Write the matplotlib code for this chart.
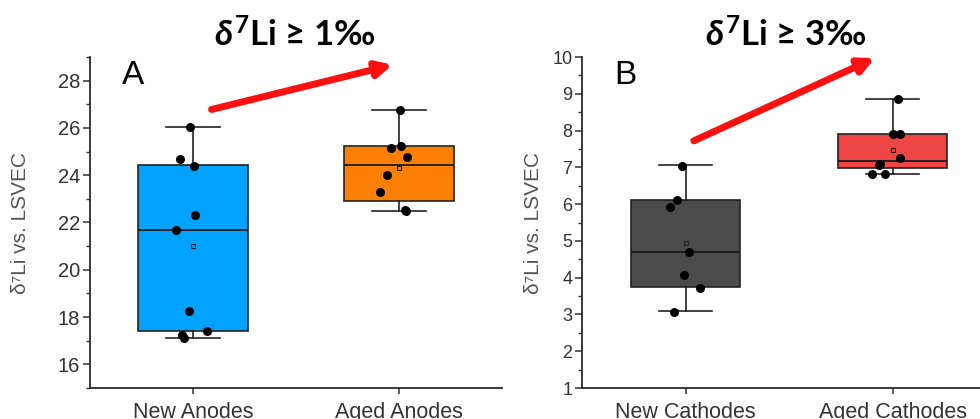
import matplotlib
matplotlib.use("Agg")
import matplotlib.pyplot as plt
from matplotlib.ticker import MultipleLocator

plt.rcParams['font.family'] = ['Liberation Sans', 'DejaVu Sans']
plt.rcParams['mathtext.fontset'] = 'custom'
plt.rcParams['mathtext.rm'] = 'Lato:bold'
plt.rcParams['mathtext.it'] = 'Lato:italic:bold'
plt.rcParams['mathtext.bf'] = 'Lato:bold'

# ---- panel A: anodes ----
anode_labels = ["New Anodes", "Aged Anodes"]
new_anodes = [26.06, 24.70, 24.40, 22.30, 21.68, 18.25, 17.43, 17.25, 17.10]
new_anodes_dx = [-0.013, -0.062, 0.003, 0.011, -0.083, -0.021, 0.068, -0.054, -0.046]
aged_anodes = [26.77, 25.15, 25.25, 24.77, 24.01, 23.31, 22.50, 22.54]
aged_anodes_dx = [0.003, -0.037, 0.011, 0.041, -0.057, -0.094, 0.033, 0.030]
# box stats (q1, median, q3, whisker low, whisker high, mean)
anode_q1 = [17.43, 22.92]
anode_med = [21.68, 24.42]
anode_q3 = [24.42, 25.24]
anode_lo = [17.10, 22.50]
anode_hi = [26.06, 26.77]
anode_mean = [21.02, 24.30]
anode_colors = ["#00A2FF", "#FF8000"]

# ---- panel B: cathodes ----
cathode_labels = ["New Cathodes", "Aged Cathodes"]
new_cathodes = [7.03, 6.11, 5.91, 4.71, 4.07, 3.71, 3.06]
new_cathodes_dx = [-0.016, -0.040, -0.077, 0.016, -0.008, 0.068, -0.055]
aged_cathodes = [8.85, 7.91, 7.91, 7.25, 7.08, 7.06, 6.83, 6.83]
aged_cathodes_dx = [0.027, 0.0, 0.035, 0.035, -0.061, -0.066, -0.097, -0.037]
cathode_q1 = [3.74, 6.97]
cathode_med = [4.69, 7.17]
cathode_q3 = [6.11, 7.90]
cathode_lo = [3.09, 6.83]
cathode_hi = [7.05, 8.86]
cathode_mean = [4.93, 7.48]
cathode_colors = ["#4B4B4B", "#F04545"]

fig = plt.figure(figsize=(9.8, 4.19), dpi=100)
axA = fig.add_axes([90/980, 31/419, 412/980, 331/419])
axB = fig.add_axes([582/980, 31/419, 414/980, 331/419])


def draw_panel(ax, labels, groups, offsets, q1, med, q3, lo, hi, mean, colors, ytick_size):
    stats = []
    for i in range(len(labels)):
        stats.append(dict(q1=q1[i], med=med[i], q3=q3[i], whislo=lo[i],
                          whishi=hi[i], mean=mean[i], fliers=[], label=labels[i]))
    bp = ax.bxp(stats, positions=[1, 2], widths=0.53, capwidths=0.26,
                patch_artist=True, showmeans=True, showfliers=False,
                boxprops=dict(linewidth=1.2, edgecolor="#222222"),
                medianprops=dict(color="#1a1a1a", linewidth=1.3),
                whiskerprops=dict(color="#222222", linewidth=1.2),
                capprops=dict(color="#222222", linewidth=1.2),
                meanprops=dict(marker="s", markersize=3.5, markerfacecolor="none",
                               markeredgecolor="#222222", markeredgewidth=0.8))
    for patch, c in zip(bp["boxes"], colors):
        patch.set_facecolor(c)
    for i, (vals, dx) in enumerate(zip(groups, offsets)):
        xs = [i + 1 + d for d in dx]
        ax.scatter(xs, vals, s=30, color="black", zorder=5)

    ax.set_xlim(0.5, 2.5)
    ax.set_xticks([1, 2])
    ax.set_xticklabels(labels, fontsize=15.5, color="#333333")
    for side in ["top", "right"]:
        ax.spines[side].set_visible(False)
    for side in ["left", "bottom"]:
        ax.spines[side].set_linewidth(1.3)
        ax.spines[side].set_color("#2a2a2a")
    ax.tick_params(axis="y", which="major", length=5, width=1.1, labelsize=ytick_size,
                   colors="#333333", pad=2)
    ax.tick_params(axis="y", which="minor", length=3, width=1.0, colors="#333333")
    ax.tick_params(axis="x", length=4, width=1.1, pad=6, colors="#333333")
    ax.set_ylabel("δ⁷Li vs. LSVEC", fontsize=15, color="#555555")


draw_panel(axA, anode_labels, [new_anodes, aged_anodes], [new_anodes_dx, aged_anodes_dx],
           anode_q1, anode_med, anode_q3, anode_lo, anode_hi, anode_mean, anode_colors, 14.5)
axA.set_ylim(15, 29)
axA.yaxis.set_major_locator(MultipleLocator(2))
axA.yaxis.set_minor_locator(MultipleLocator(1))
axA.set_yticks([16, 18, 20, 22, 24, 26, 28])
axA.yaxis.set_label_coords(-0.146, 0.5)

draw_panel(axB, cathode_labels, [new_cathodes, aged_cathodes], [new_cathodes_dx, aged_cathodes_dx],
           cathode_q1, cathode_med, cathode_q3, cathode_lo, cathode_hi, cathode_mean, cathode_colors, 13)
axB.set_ylim(1, 10)
axB.yaxis.set_major_locator(MultipleLocator(1))
axB.yaxis.set_minor_locator(MultipleLocator(0.5))
axB.yaxis.set_label_coords(-0.094, 0.5)

# panel letters
axA.text(0.105, 0.945, "A", transform=axA.transAxes, fontsize=24, ha="center", va="center")
axB.text(0.105, 0.945, "B", transform=axB.transAxes, fontsize=24, ha="center", va="center")

# red trend arrows
axA.annotate("", xy=(1.97, 28.67), xytext=(1.09, 26.78), annotation_clip=False,
             arrowprops=dict(arrowstyle="-|>,head_length=0.9,head_width=0.45",
                             color="#FF1010", lw=5, shrinkA=0, shrinkB=0))
axB.annotate("", xy=(1.915, 9.97), xytext=(1.04, 7.72), annotation_clip=False,
             arrowprops=dict(arrowstyle="-|>,head_length=0.9,head_width=0.45",
                             color="#FF1010", lw=5, shrinkA=0, shrinkB=0))

# headline text above each panel
fig.text(295/980, 1 - 35/419, r"$\delta^{7}$Li ≥ 1‰", fontsize=25, fontweight="bold",
         family=["Lato", "DejaVu Sans"], ha="center", va="center")
fig.text(786/980, 1 - 35/419, r"$\delta^{7}$Li ≥ 3‰", fontsize=25, fontweight="bold",
         family=["Lato", "DejaVu Sans"], ha="center", va="center")

fig.savefig("out.png", dpi=100)
